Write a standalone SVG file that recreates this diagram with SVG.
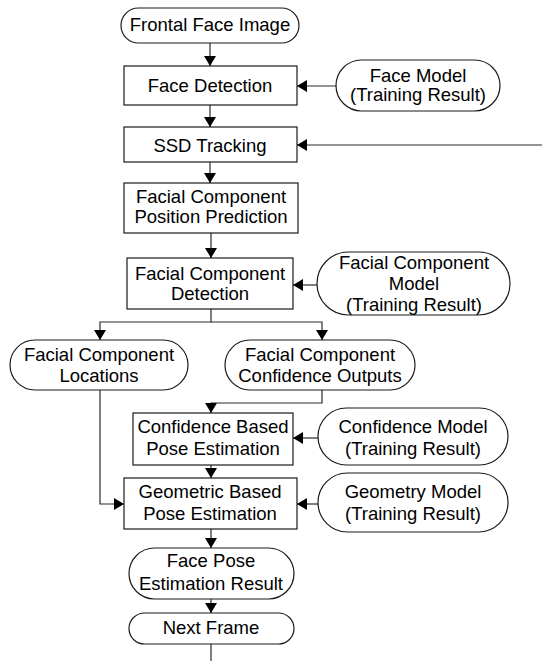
<svg xmlns="http://www.w3.org/2000/svg" width="542" height="661" viewBox="0 0 542 661">
<style>
.n{fill:#fff;stroke:#1a1a1a;stroke-width:1.2}
.t{font-family:"Liberation Sans",Arial,sans-serif;font-size:18.5px;fill:#000;text-anchor:middle}
.c{fill:none;stroke:#2a2a2a;stroke-width:1.2}
</style>
<defs>
<marker id="ah" viewBox="0 0 10 12" refX="10" refY="6" markerWidth="10" markerHeight="12" orient="auto" markerUnits="userSpaceOnUse"><path d="M0,0 L10,6 L0,12 z" fill="#000"/></marker>
</defs>
<rect width="542" height="661" fill="#fff"/>
<g id="connectors">
<path class="c" d="M210,43 V66" marker-end="url(#ah)"/>
<path class="c" d="M336,86 H297" marker-end="url(#ah)"/>
<path class="c" d="M210,105 V127" marker-end="url(#ah)"/>
<path class="c" d="M542,145 H297" marker-end="url(#ah)"/>
<path class="c" d="M210,162 V183" marker-end="url(#ah)"/>
<path class="c" d="M211,233 V258" marker-end="url(#ah)"/>
<path class="c" d="M317,285 H293" marker-end="url(#ah)"/>
<path class="c" d="M211,309 V322 H100 V340" marker-end="url(#ah)"/>
<path class="c" d="M211,322 H322 V340" marker-end="url(#ah)"/>
<path class="c" d="M322,390 V403 H211 V413" marker-end="url(#ah)"/>
<path class="c" d="M318,438 H293" marker-end="url(#ah)"/>
<path class="c" d="M211,465 V478" marker-end="url(#ah)"/>
<path class="c" d="M100,390 V504 H124" marker-end="url(#ah)"/>
<path class="c" d="M318,504 H297" marker-end="url(#ah)"/>
<path class="c" d="M211,529 V548" marker-end="url(#ah)"/>
<path class="c" d="M211,599 V613" marker-end="url(#ah)"/>
<path class="c" d="M211,644 V661"/>
</g>
<g id="frontal">
<rect class="n" x="121" y="8" width="178" height="35" rx="17.5"/>
<text class="t" x="210" y="31">Frontal Face Image</text>
</g>
<g id="facedet">
<rect class="n" x="124" y="66" width="173" height="39"/>
<text class="t" x="210" y="92">Face Detection</text>
</g>
<g id="facemodel">
<rect class="n" x="336" y="60" width="164" height="51" rx="25.5"/>
<text class="t" x="418" y="82">Face Model</text>
<text class="t" x="418" y="101">(Training Result)</text>
</g>
<g id="ssd">
<rect class="n" x="124" y="127" width="173" height="35"/>
<text class="t" x="210" y="152">SSD Tracking</text>
</g>
<g id="pospred">
<rect class="n" x="124" y="183" width="174" height="50"/>
<text class="t" x="211" y="203">Facial Component</text>
<text class="t" x="211" y="223">Position Prediction</text>
</g>
<g id="detector">
<rect class="n" x="127" y="258" width="166" height="51"/>
<text class="t" x="210" y="280">Facial Component</text>
<text class="t" x="210" y="300">Detection</text>
</g>
<g id="fcmodel">
<rect class="n" x="317" y="252" width="193" height="63" rx="31.5"/>
<text class="t" x="414" y="269">Facial Component</text>
<text class="t" x="414" y="290">Model</text>
<text class="t" x="414" y="311">(Training Result)</text>
</g>
<g id="locations">
<rect class="n" x="10" y="340" width="178" height="50" rx="25"/>
<text class="t" x="99" y="361">Facial Component</text>
<text class="t" x="99" y="382">Locations</text>
</g>
<g id="confout">
<rect class="n" x="225" y="340" width="190" height="50" rx="25"/>
<text class="t" x="320" y="361">Facial Component</text>
<text class="t" x="320" y="382">Confidence Outputs</text>
</g>
<g id="confbased">
<rect class="n" x="133" y="413" width="160" height="52"/>
<text class="t" x="213" y="433">Confidence Based</text>
<text class="t" x="213" y="455">Pose Estimation</text>
</g>
<g id="confmodel">
<rect class="n" x="318" y="408" width="190" height="57" rx="28.5"/>
<text class="t" x="413" y="433">Confidence Model</text>
<text class="t" x="413" y="455">(Training Result)</text>
</g>
<g id="geobased">
<rect class="n" x="124" y="478" width="173" height="51"/>
<text class="t" x="210" y="498">Geometric Based</text>
<text class="t" x="210" y="520">Pose Estimation</text>
</g>
<g id="geomodel">
<rect class="n" x="318" y="473" width="190" height="59" rx="29.5"/>
<text class="t" x="413" y="498">Geometry Model</text>
<text class="t" x="413" y="520">(Training Result)</text>
</g>
<g id="result">
<rect class="n" x="129" y="548" width="165" height="51" rx="25.5"/>
<text class="t" x="211" y="567">Face Pose</text>
<text class="t" x="211" y="590">Estimation Result</text>
</g>
<g id="nextframe">
<rect class="n" x="129" y="613" width="165" height="31" rx="15.5"/>
<text class="t" x="211" y="634">Next Frame</text>
</g>
</svg>
